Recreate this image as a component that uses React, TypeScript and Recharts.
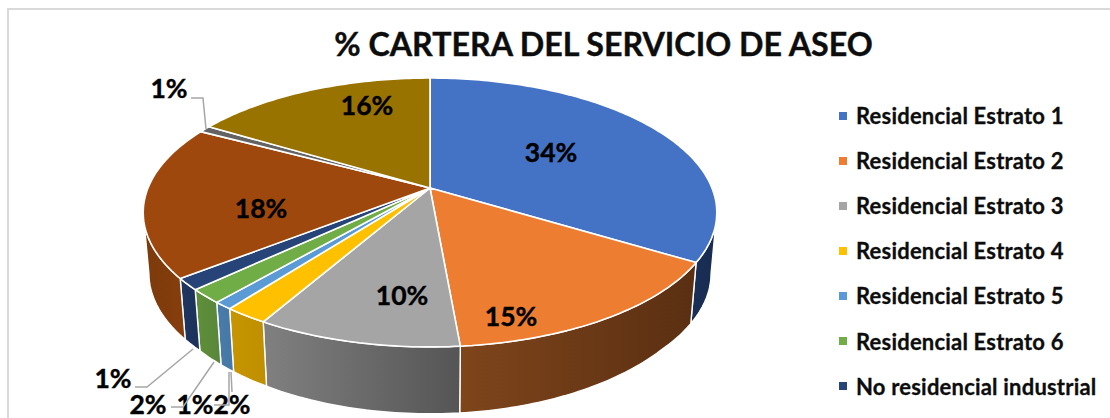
import { PieChart, Pie, Legend } from "recharts";

const categories = [
  "Residencial Estrato 1",
  "Residencial Estrato 2",
  "Residencial Estrato 3",
  "Residencial Estrato 4",
  "Residencial Estrato 5",
  "Residencial Estrato 6",
  "No residencial industrial",
  "No residencial comercial",
  "No residencial oficial",
  "No residencial especial",
];
const shares = [33.7, 14.9, 9.7, 2.1, 0.9, 1.7, 1.4, 18.4, 0.8, 16.4];
const topColors = ["#4472c4", "#ed7d31", "#a5a5a5", "#ffc000", "#5b9bd5", "#70ad47", "#264478", "#9e480e", "#636363", "#997300"];
// side wall shading, left to right
const wallColors = [
  ["#1a2f57", "#182c50"],
  ["#7f451b", "#5a2f12"],
  ["#808080", "#555555"],
  ["#c79500", "#bf8f00"],
  ["#4a7cab", "#4678a6"],
  ["#5f9039", "#58863a"],
  ["#1e3661", "#1c3259"],
  ["#7c3a0b", "#863e0c"],
  ["#555555", "#555555"],
  ["#7a5c00", "#7a5c00"],
];
const visibleLegendItems = 7;

const data = categories.map((name, i) => ({ name, value: shares[i], fill: topColors[i] }));

const FONT = "Lato, 'Open Sans', sans-serif";

// the tilted disc: perspective projection fitted on the picture
const TILT = 0.182;
const FLATTEN = 130 / 282;
const WALL_DROP = 61;

function project(cx: number, cy: number, r: number, angle: number) {
  const t = ((90 - angle) * Math.PI) / 180;
  const w = 1 + TILT * Math.cos(t);
  return {
    x: cx + (r * Math.sin(t)) / w,
    y: cy - (r * FLATTEN * Math.cos(t)) / w,
  };
}

function arcPoints(cx: number, cy: number, r: number, from: number, to: number) {
  const pts = [];
  const steps = Math.max(2, Math.ceil(Math.abs(to - from)));
  for (let i = 0; i <= steps; i++) pts.push(project(cx, cy, r, from + ((to - from) * i) / steps));
  return pts;
}

const toPath = (pts: { x: number; y: number }[]) => pts.map((p, i) => `${i ? "L" : "M"}${p.x.toFixed(1)} ${p.y.toFixed(1)}`).join(" ");

// recharts angles, front of the disc sits between these two (where the outline turns back)
const FRONT_START = 90 - 100.5;
const FRONT_END = 90 - 259.5;

function SliceShape(props: any) {
  const { cx, cy, outerRadius, startAngle, endAngle, fill, payload } = props;
  const idx = categories.indexOf(payload?.name ?? props.name);
  const top = `${toPath([{ x: cx, y: cy }, ...arcPoints(cx, cy, outerRadius, startAngle, endAngle)])} Z`;

  const a = Math.min(startAngle, FRONT_START);
  const b = Math.max(endAngle, FRONT_END);
  let wall = null;
  if (a > b) {
    const upper = arcPoints(cx, cy, outerRadius, a, b);
    const lower = upper
      .map((p) => ({ x: cx + (p.x - cx) * 0.98, y: p.y + WALL_DROP + (p.y - cy > 100 ? (p.y - cy - 100) * 0.1 : 0) }))
      .reverse();
    const xs = upper.map((p) => p.x).concat(lower.map((p) => p.x));
    const gid = `wall-${idx}`;
    wall = (
      <g>
        <defs>
          <linearGradient id={gid} gradientUnits="userSpaceOnUse" x1={Math.min(...xs)} x2={Math.max(...xs)} y1={0} y2={0}>
            <stop offset="0" stopColor={wallColors[idx][0]} />
            <stop offset="1" stopColor={wallColors[idx][1]} />
          </linearGradient>
        </defs>
        <path d={`${toPath([...upper, ...lower])} Z`} fill={`url(#${gid})`} stroke="#ffffff" strokeWidth={1.4} strokeLinejoin="round" />
      </g>
    );
  }
  return (
    <g>
      {wall}
      <path d={top} fill={fill} stroke="#ffffff" strokeWidth={1.6} strokeLinejoin="round" />
    </g>
  );
}

// label centres relative to the pie centre, with optional leader lines
const labelSpots: { dx: number; dy: number; leader?: number[][] }[] = [
  { dx: 121, dy: -35 },
  { dx: 81, dy: 129 },
  { dx: -28, dy: 108 },
  { dx: -198, dy: 217, leader: [[-199, 184], [-198, 204]] },
  { dx: -235, dy: 217, leader: [[-201, 184], [-201, 217], [-216, 217]] },
  { dx: -282, dy: 217, leader: [[-216, 174], [-247, 219], [-259, 219]] },
  { dx: -317, dy: 191, leader: [[-237, 161], [-283, 199], [-295, 199]] },
  { dx: -169, dy: 21 },
  { dx: -261, dy: -99, leader: [[-224, -59], [-227, -90], [-239, -90]] },
  { dx: -63, dy: -82 },
];

function SliceLabel(props: any) {
  const { cx, cy, percent, index } = props;
  const spot = labelSpots[index];
  return (
    <g>
      {spot.leader && (
        <polyline
          points={spot.leader.map(([x, y]) => `${cx + x},${cy + y}`).join(" ")}
          fill="none"
          stroke="#a6a6a6"
          strokeWidth={1.5}
        />
      )}
      <text
        x={cx + spot.dx}
        y={cy + spot.dy}
        dy="0.35em"
        textAnchor="middle"
        fontFamily={FONT}
        fontWeight={700}
        fontSize={26.5}
        fill="#000000"
        stroke="#000000"
        strokeWidth={0.4}
      >
        {`${Math.round(percent * 100)}%`}
      </text>
    </g>
  );
}

function LegendList({ payload }: any) {
  return (
    <div style={{ fontFamily: FONT, fontWeight: 700, fontSize: 22, letterSpacing: 0.2, color: "#0d0d0d", WebkitTextStroke: "0.3px #0d0d0d" }}>
      {(payload || []).slice(0, visibleLegendItems).map((item: any) => (
        <div key={item.value} style={{ display: "flex", alignItems: "center", height: 45.1, whiteSpace: "nowrap" }}>
          <span style={{ width: 8, height: 8, background: item.color, marginRight: 9, flex: "none" }} />
          {item.value}
        </div>
      ))}
    </div>
  );
}

export default function App() {
  return (
    <div style={{ position: "absolute", left: 0, top: 0, width: 1110, height: 418, overflow: "hidden", background: "#fff" }}>
      <div
        style={{
          position: "absolute",
          left: 7,
          top: 8,
          width: 1140,
          height: 460,
          border: "2px solid #d9d9d9",
          boxSizing: "border-box",
        }}
      />
      <div
        style={{
          position: "absolute",
          left: 230,
          width: 747,
          top: 20,
          textAlign: "center",
          fontFamily: FONT,
          fontWeight: 700,
          fontSize: 32.2,
          lineHeight: "48px",
          color: "#0d0d0d",
          WebkitTextStroke: "0.4px #0d0d0d",
        }}
      >
        % CARTERA DEL SERVICIO DE ASEO
      </div>
      <PieChart width={1110} height={418} margin={{ top: 0, right: 0, bottom: 0, left: 0 }} style={{ position: "absolute", left: 0, top: 0 }}>
        <Pie
          data={data}
          dataKey="value"
          nameKey="name"
          cx={430}
          cy={188}
          outerRadius={282}
          startAngle={90}
          endAngle={-270}
          shape={SliceShape}
          label={SliceLabel}
          labelLine={false}
          isAnimationActive={false}
        />
        <Legend
          layout="vertical"
          align="right"
          verticalAlign="top"
          itemSorter={null}
          content={LegendList}
          wrapperStyle={{ left: 839, right: "auto", top: 93, width: 270 }}
        />
      </PieChart>
    </div>
  );
}
